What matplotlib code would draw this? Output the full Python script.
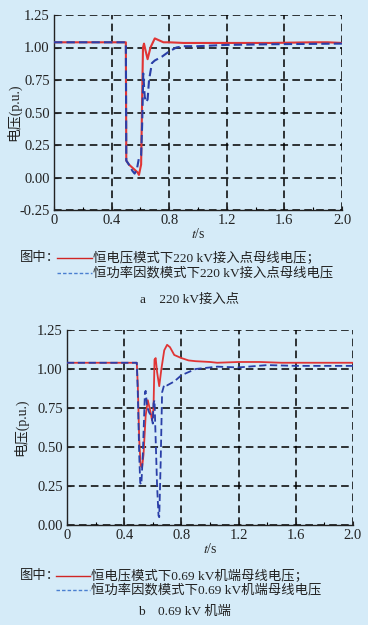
import matplotlib.pyplot as plt
from matplotlib.lines import Line2D

# ---- data ----
# a: 220 kV point of connection
t_a_cv = [0, 0.499, 0.502, 0.52, 0.55, 0.58, 0.59, 0.605, 0.612, 0.618, 0.625, 0.635,
          0.65, 0.67, 0.70, 0.72, 0.76, 0.80, 0.90, 1.0, 1.2, 1.5, 1.8, 1.9, 2.0]
v_a_cv = [1.04, 1.04, 0.13, 0.10, 0.07, 0.04, 0.02, 0.10, 0.60, 1.00, 1.03, 0.98,
          0.91, 1.00, 1.07, 1.06, 1.04, 1.04, 1.035, 1.035, 1.035, 1.035, 1.04, 1.04, 1.035]

t_a_pf = [0, 0.499, 0.502, 0.52, 0.545, 0.56, 0.575, 0.59, 0.605, 0.612, 0.62, 0.63,
          0.64, 0.65, 0.66, 0.68, 0.70, 0.75, 0.80, 0.85, 0.90, 1.0, 1.2, 1.5, 2.0]
v_a_pf = [1.04, 1.04, 0.13, 0.10, 0.05, 0.03, 0.06, 0.15, 0.17, 0.40, 0.80, 0.62,
          0.58, 0.60, 0.75, 0.88, 0.90, 0.93, 0.97, 1.00, 1.01, 1.01, 1.02, 1.025, 1.03]

# b: 0.69 kV generator terminal
t_b_cv = [0, 0.488, 0.495, 0.505, 0.515, 0.525, 0.535, 0.55, 0.565, 0.575, 0.585, 0.595,
          0.605, 0.612, 0.62, 0.63, 0.645, 0.66, 0.68, 0.70, 0.72, 0.75, 0.80, 0.85,
          0.90, 1.0, 1.05, 1.2, 1.35, 1.5, 2.0]
v_b_cv = [1.04, 1.04, 0.90, 0.55, 0.38, 0.37, 0.45, 0.70, 0.80, 0.76, 0.72, 0.67,
          0.75, 1.06, 1.07, 0.98, 0.89, 1.00, 1.12, 1.155, 1.14, 1.09, 1.07, 1.055,
          1.05, 1.045, 1.04, 1.045, 1.045, 1.04, 1.04]

t_b_pf = [0, 0.488, 0.495, 0.505, 0.512, 0.52, 0.53, 0.545, 0.55, 0.56, 0.575, 0.59,
          0.60, 0.605, 0.612, 0.62, 0.63, 0.64, 0.645, 0.655, 0.665, 0.68, 0.70, 0.75,
          0.80, 0.85, 0.90, 0.95, 1.05, 1.2, 1.4, 1.6, 2.0]
v_b_pf = [1.04, 1.04, 0.85, 0.45, 0.27, 0.26, 0.45, 0.85, 0.86, 0.76, 0.72, 0.70,
          0.65, 0.78, 0.80, 0.55, 0.25, 0.06, 0.05, 0.40, 0.85, 0.90, 0.895, 0.92,
          0.96, 0.98, 1.00, 1.005, 1.015, 1.01, 1.025, 1.02, 1.02]

x_ticks = [0, 0.4, 0.8, 1.2, 1.6, 2.0]
x_tick_labels = ["0", "0.4", "0.8", "1.2", "1.6", "2.0"]
y_ticks_a = [-0.25, 0, 0.25, 0.5, 0.75, 1.0, 1.25]
y_ticks_b = [0, 0.25, 0.5, 0.75, 1.0, 1.25]

legend_a = ["恒电压模式下220 kV接入点母线电压；", "恒功率因数模式下220 kV接入点母线电压"]
legend_b = ["恒电压模式下0.69 kV机端母线电压；", "恒功率因数模式下0.69 kV机端母线电压"]
caption_a = "a　220 kV接入点"
caption_b = "b　0.69 kV 机端"

BG = "#d5ebf8"
RED = "#e03535"
BLUE = "#2a3fa8"
INK = "#222222"
FONTS = ["Liberation Serif", "Noto Sans CJK SC"]
plt.rcParams["font.family"] = FONTS
plt.rcParams["mathtext.fontset"] = "stix"

W, H = 368, 625
fig = plt.figure(figsize=(W / 100, H / 100), dpi=100, facecolor=BG)


def px_axes(left, top, right, bottom):
    return fig.add_axes([left / W, 1 - bottom / H, (right - left) / W, (bottom - top) / H])


def style_axes(ax, yticks, ylim, ylab_x):
    ax.set_facecolor(BG)
    ax.set_xlim(0, 2.0)
    ax.set_ylim(*ylim)
    ax.set_xticks(x_ticks)
    ax.set_xticklabels(x_tick_labels)
    ax.set_xticks([0.2, 0.6, 1.0, 1.4, 1.8], minor=True)
    ax.set_yticks(yticks)
    ax.set_yticklabels([f"{v:.2f}" for v in yticks])
    ax.tick_params(direction="in", labelsize=10.5, length=3, width=0.8, colors=INK, pad=3)
    ax.tick_params(which="minor", direction="in", length=2, width=0.8)
    ax.grid(True, color="black", linestyle=(0, (5, 2.8)), linewidth=1.1)
    for s in ["top", "right"]:
        ax.spines[s].set_visible(False)
    for s in ["left", "bottom"]:
        ax.spines[s].set_linewidth(1.0)
        ax.spines[s].set_color(INK)
    ax.set_ylabel("电压(p.u.)", fontsize=10, color=INK)
    ax.yaxis.set_label_coords(ylab_x, 0.5)
    ax.set_xlabel(r"$t$/s", fontsize=10, color=INK, labelpad=0)


ax1 = px_axes(54, 15, 342, 210)
style_axes(ax1, y_ticks_a, (-0.25, 1.25), -0.115)
ax1.plot(t_a_cv, v_a_cv, color=RED, lw=1.5, zorder=3)
ax1.plot(t_a_pf, v_a_pf, color=BLUE, lw=1.5, ls=(0, (4, 2)), zorder=4)

ax2 = px_axes(67, 330, 353, 525)
style_axes(ax2, y_ticks_b, (0, 1.25), -0.136)
ax2.plot(t_b_cv, v_b_cv, color=RED, lw=1.3, zorder=3)
ax2.plot(t_b_pf, v_b_pf, color=BLUE, lw=1.3, ls=(0, (4, 2)), zorder=4)


def legend_block(y1, y2, labels, x_lab, x0, x1):
    fig.text(x_lab / W, 1 - y1 / H, "图中：", fontsize=9.6, va="center", color=INK)
    fig.add_artist(Line2D([x0 / W, x1 / W], [1 - y1 / H, 1 - y1 / H], color="#d02525", lw=1.0))
    fig.add_artist(Line2D([x0 / W, x1 / W], [1 - y2 / H, 1 - y2 / H], color="#4a7fd0",
                          lw=1.0, ls=(0, (2.5, 1.5))))
    fig.text((x1 + 1) / W, 1 - y1 / H, labels[0], fontsize=9.6, va="center", color=INK)
    fig.text((x1 + 1) / W, 1 - y2 / H, labels[1], fontsize=9.6, va="center", color=INK)


legend_block(258, 273, legend_a, 20, 57, 92)
fig.text(190 / W, 1 - 300 / H, caption_a, fontsize=9.6, ha="center", va="center", color=INK)

legend_block(576, 590, legend_b, 20, 56, 90)
fig.text(185 / W, 1 - 612 / H, caption_b, fontsize=9.6, ha="center", va="center", color=INK)

fig.savefig("out.png", dpi=100, facecolor=BG)
